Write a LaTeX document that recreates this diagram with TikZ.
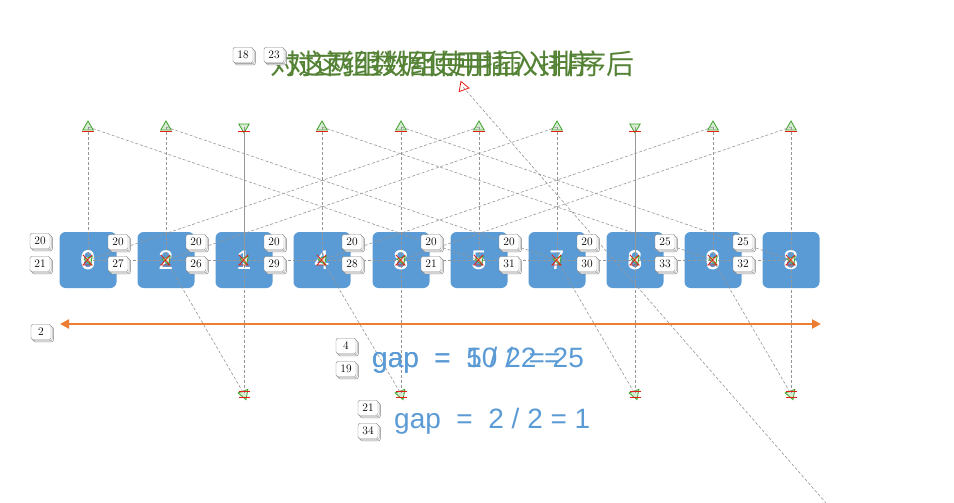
\documentclass[tikz,border=0pt]{standalone}
\usepackage{fontspec}
\setsansfont{Liberation Sans}
\newfontfamily\cjk{Noto Sans CJK SC}
\usetikzlibrary{arrows.meta,shapes.geometric,shadows}
\definecolor{boxblue}{RGB}{91,155,213}
\definecolor{arrorange}{RGB}{237,125,49}
\definecolor{titlegreen}{RGB}{84,130,53}
\definecolor{linegray}{RGB}{150,150,150}
\definecolor{mkgreen}{RGB}{60,160,40}
\definecolor{mkred}{RGB}{230,30,20}
\tikzset{
  databox/.style={rounded corners=6pt, fill=boxblue, minimum width=57pt, minimum height=56pt, inner sep=0pt},
  digit/.style={text=white, inner sep=0pt, font=\sffamily\fontsize{27}{27}\selectfont},
  tag/.style={draw=gray, fill=white, rounded corners=2pt, minimum width=20pt, minimum height=15pt, inner sep=1pt,
    font=\fontsize{11.5}{11.5}\selectfont,
    double copy shadow={shadow xshift=1.2pt, shadow yshift=-1.2pt, draw=gray, fill=white}},
  conn/.style={linegray, dash pattern=on 3pt off 2pt, line width=0.6pt},
  solidconn/.style={linegray, line width=0.8pt},
  mkup/.style={regular polygon, regular polygon sides=3, draw=mkgreen, fill=mkgreen!20, minimum size=12pt, inner sep=0pt, line width=0.8pt},
  mkdown/.style={mkup, shape border rotate=180},
  mkside/.style={mkup, shape border rotate=200},
  mkredm/.style={regular polygon, regular polygon sides=3, draw=mkred, minimum size=12pt, inner sep=0pt, line width=0.8pt, shape border rotate=140},
  redbar/.style={mkred, line width=1pt},
  title/.style={text=titlegreen, inner sep=0pt, anchor=west, font=\cjk\fontsize{28}{28}\selectfont},
  gaptext/.style={text=boxblue, inner sep=0pt, anchor=west, font=\sffamily\fontsize{28}{28}\selectfont}
}
\begin{document}
\begin{tikzpicture}[x=1pt,y=-1pt]
\useasboundingbox (0,0) rectangle (954,503);

% title (overlaid frames)
\node[title] (ttlA) at (270,64) {对这两组数组使用插入排序后};
\node[title] (ttlB) at (286,64) {对这组数据使用插入排序};

% boxes
\foreach \i/\x in {0/88,1/166,2/244,3/322,4/401,5/479,6/557,7/635,8/713,9/791}{
  \node[databox] (b\i) at (\x,260) {};
}
% digits (overlaid frames)
\node[digit] (d0a) at (b0) {0}; \node[digit] (d0b) at (b0) {6};
\node[digit] (d1) at (b1) {2};
\node[digit] (d2) at (b2) {1};
\node[digit] (d3) at (b3) {4};
\node[digit] (d4a) at (b4) {3}; \node[digit] (d4b) at (b4) {8};
\node[digit] (d5) at (b5) {5};
\node[digit] (d6) at (b6) {7};
\node[digit] (d7a) at (b7) {8}; \node[digit] (d7b) at (b7) {6};
\node[digit] (d8a) at (b8) {9}; \node[digit] (d8b) at (b8) {6};
\node[digit] (d9) at (b9) {8};

% top markers
\foreach \i/\x in {0/88,1/166,3/322,4/401,5/479,6/557,8/713,9/791}{
  \node[mkup] (t\i) at (\x,127) {};
}
\node[mkdown] (t2) at (244,127) {};
\node[mkdown] (t7) at (635,127) {};
% bottom markers
\foreach \i/\x in {2/244,4/401,7/635,9/791}{
  \node[mkside] (u\i) at (\x,394) {};
}
% stray marker
\node[mkredm] (m) at (463,87) {};
\coordinate (mend) at (826,503);

% connectors
\foreach \i in {0,1,3,4,5,6,8,9}{ \draw[conn] (t\i.center) -- (b\i.center); }
\draw[solidconn] (t2.center) -- (b2.center);
\draw[solidconn] (t7.center) -- (b7.center);
\draw[conn] (t0.center) -- (b5.center);
\draw[conn] (t1.center) -- (b6.center);
\draw[conn] (t3.center) -- (b8.center);
\draw[conn] (t4.center) -- (b9.center);
\draw[conn] (b0.center) -- (t5.center);
\draw[conn] (b1.center) -- (t6.center);
\draw[conn] (b3.center) -- (t8.center);
\draw[conn] (b4.center) -- (t9.center);
\draw[conn] (b0.center) -- (b9.center);
\draw[conn] (b2.center) -- (u2.center);
\draw[conn] (b4.center) -- (u4.center);
\draw[conn] (b7.center) -- (u7.center);
\draw[conn] (b9.center) -- (u9.center);
\draw[conn] (b1.center) -- (u2.center);
\draw[conn] (b3.center) -- (u4.center);
\draw[conn] (b6.center) -- (u7.center);
\draw[conn] (b8.center) -- (u9.center);
\draw[conn] (m.center) -- (mend);

% red bars on markers
\foreach \n in {t0,t1,t2,t3,t4,t5,t6,t7,t8,t9}{
  \draw[redbar] ([xshift=-6pt,yshift=-4pt]\n.center) -- ([xshift=6pt,yshift=-4pt]\n.center);
}
\foreach \n in {u2,u4,u7,u9}{
  \draw[redbar] ([xshift=-5pt,yshift=3pt]\n.center) -- ([xshift=6pt,yshift=3pt]\n.center);
  \draw[redbar] ([xshift=-5pt,yshift=-3pt]\n.center) -- ([xshift=6pt,yshift=-3pt]\n.center);
}
% moving markers on boxes
\foreach \i in {0,...,9}{
  \node[mkside, minimum size=10pt] (c\i) at ([xshift=1pt]b\i.center) {};
  \draw[redbar, line width=0.8pt] ([xshift=-5pt,yshift=5pt]b\i.center) -- ([xshift=4pt,yshift=-5pt]b\i.center)
     -- ([xshift=-5pt,yshift=-5pt]b\i.center) -- ([xshift=4pt,yshift=5pt]b\i.center);
}

% orange arrow
\coordinate (aL) at (60,324);
\coordinate (aR) at (821,324);
\draw[arrorange, line width=2.6pt, {Triangle[length=9pt,width=9pt]}-{Triangle[length=9pt,width=9pt]}] (aL) -- (aR);

% gap texts
\node[gaptext] (g1a) at (372,360) {gap\ \ =\ \ 5 / 2 = 2};
\node[gaptext] (g1b) at (372,360) {gap\ \ =\ \ 10 / 2 = 5};
\node[gaptext] (g2) at (394,421) {gap\ \ =\ \ 2 / 2 = 1};

% tags
\node[tag] (L20) at (40,241) {20};
\node[tag] (L21) at (40,264) {21};
\foreach \i/\x/\a/\b in {0/118/20/27,1/196/20/26,2/274/20/29,3/352/20/28,4/431/20/21,5/509/20/31,6/587/20/30,7/665/25/33,8/743/25/32}{
  \node[tag] (p\i) at (\x,242) {\a};
  \node[tag] (q\i) at (\x,264) {\b};
}
\node[tag] (T2) at (41,332) {2};
\node[tag] (T4) at (346,346) {4};
\node[tag] (T19) at (346,369) {19};
\node[tag] (T21) at (368,408) {21};
\node[tag] (T34) at (368,431) {34};
\node[tag] (T18) at (243,55) {18};
\node[tag] (T23) at (274,55) {23};
\end{tikzpicture}
\end{document}
